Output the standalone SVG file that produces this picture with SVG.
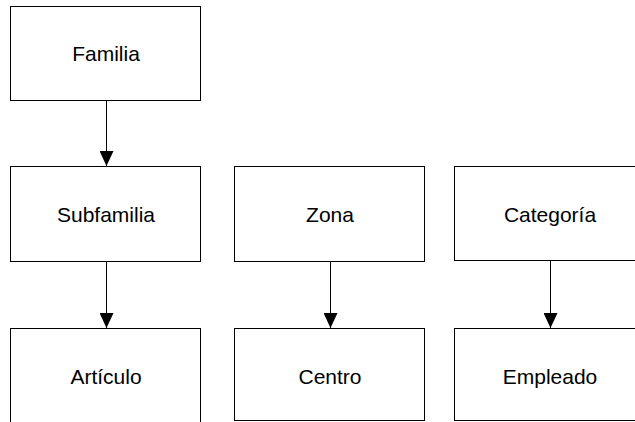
<svg xmlns="http://www.w3.org/2000/svg" width="635" height="422" viewBox="0 0 635 422">
  <style>
    .box { fill: #ffffff; stroke: #000000; stroke-width: 1; }
    .label { font-family: "Liberation Sans", Arial, sans-serif; font-size: 21px; fill: #000000; text-anchor: middle; }
    .link { stroke: #000000; stroke-width: 1; fill: none; marker-end: url(#arrow); }
  </style>
  <defs>
    <!-- filled triangular head, drawn pointing along +x so orient="auto" aims it down the line -->
    <marker id="arrow" markerUnits="userSpaceOnUse" markerWidth="15" markerHeight="14" refX="15" refY="7" orient="auto" viewBox="0 0 15 14">
      <path d="M0,0 L15,7 L0,14 Z" fill="#000000"/>
    </marker>
  </defs>
  <rect width="635" height="422" fill="#ffffff"/>

  <g id="connectors">
    <line class="link" x1="106.5" y1="101" x2="106.5" y2="166"/>
    <line class="link" x1="106.5" y1="262" x2="106.5" y2="328"/>
    <line class="link" x1="330.5" y1="262" x2="330.5" y2="328"/>
    <line class="link" x1="550.5" y1="261" x2="550.5" y2="328"/>
  </g>

  <g id="familia">
    <rect class="box" x="10.5" y="6.5" width="190" height="94"/>
    <text class="label" x="106" y="61">Familia</text>
  </g>
  <g id="subfamilia">
    <rect class="box" x="10.5" y="166.5" width="190" height="95"/>
    <text class="label" x="106" y="222">Subfamilia</text>
  </g>
  <g id="zona">
    <rect class="box" x="234.5" y="166.5" width="190" height="95"/>
    <text class="label" x="330" y="222">Zona</text>
  </g>
  <g id="categoria">
    <rect class="box" x="454.5" y="166.5" width="190" height="94"/>
    <text class="label" x="550" y="222">Categoría</text>
  </g>
  <g id="articulo">
    <rect class="box" x="10.5" y="328.5" width="190" height="110"/>
    <text class="label" x="106" y="384">Artículo</text>
  </g>
  <g id="centro">
    <rect class="box" x="234.5" y="328.5" width="190" height="92"/>
    <text class="label" x="330" y="384">Centro</text>
  </g>
  <g id="empleado">
    <rect class="box" x="454.5" y="328.5" width="190" height="92"/>
    <text class="label" x="550" y="384">Empleado</text>
  </g>
</svg>
